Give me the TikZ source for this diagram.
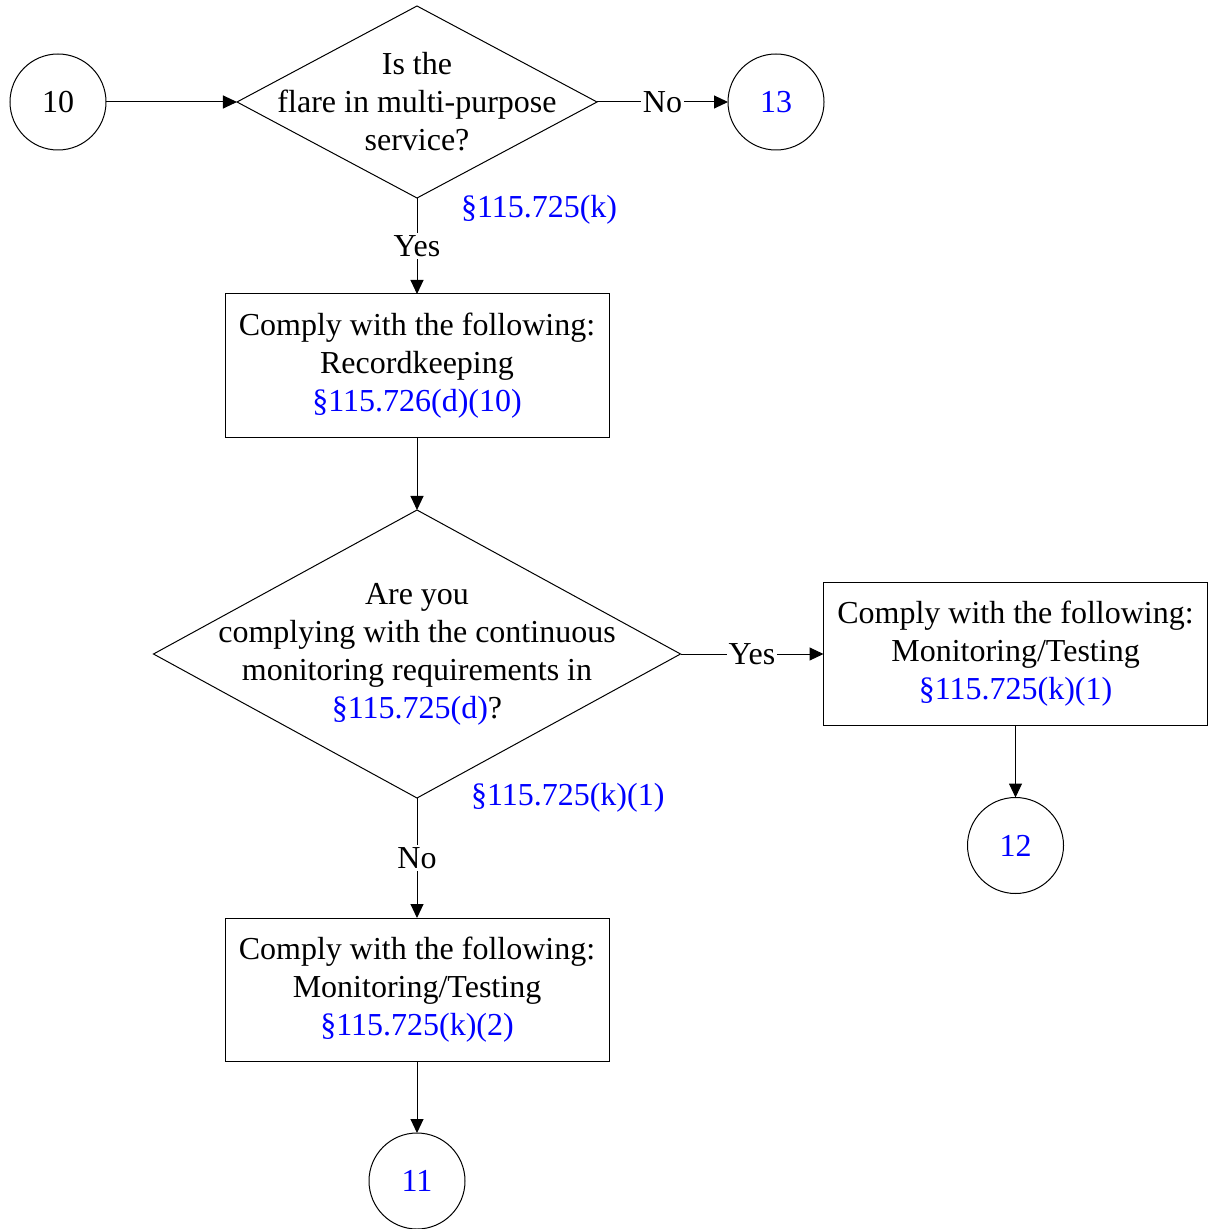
\documentclass[tikz,border=0pt]{standalone}
\usepackage{fontspec}
\setmainfont{Liberation Serif}
\usetikzlibrary{shapes.geometric, arrows.meta, positioning}
\tikzset{arrow/.style = {line width=0.5pt, -{Triangle[length=7pt,width=6.5pt]}}}

\begin{document}
\begin{tikzpicture}[x=0.5pt, y=-0.5pt,
  every node/.style = {font=\fontsize{16pt}{19pt}\selectfont, outer sep=0pt},
  main/.style = {draw, circle, line width=0.5pt, minimum size=48pt, inner sep=0pt},
  decision/.style = {draw, diamond, line width=0.5pt, align=center, inner sep=-20pt},
  block/.style = {draw, rectangle, line width=0.5pt, align=center, minimum width=192pt, minimum height=71.5pt, inner sep=0pt},
  lbl/.style = {fill=white, inner sep=1pt},
  ref/.style = {text=blue, inner sep=0pt}]
\useasboundingbox (0,0) rectangle (1207,1229);

\node[main] (c10) at (58,102) {10};
\node[decision, minimum width=180pt, minimum height=96pt, shape aspect=1.875] (q1) [right=65.5pt of c10] {Is the\\flare in multi-purpose\\service?};
\node[main, text=blue] (c13) [right=65.5pt of q1] {13};
\node[ref] (r1) [right=22pt of q1.south, yshift=-6pt] {\S115.725(k)};
\node[block] (b1) [below=48pt of q1] {Comply with the following:\\Recordkeeping\\\textcolor{blue}{\S115.726(d)(10)}};
\node[decision, minimum width=263.5pt, minimum height=144pt, shape aspect=1.83] (q2) [below=36.5pt of b1] {Are you\\complying with the continuous\\monitoring requirements in\\\textcolor{blue}{\S115.725(d)}?};
\node[ref] (r2) [right=27pt of q2.south] {\S115.725(k)(1)};
\node[block] (b2) [right=71.5pt of q2] {Comply with the following:\\Monitoring/Testing\\\textcolor{blue}{\S115.725(k)(1)}};
\node[main, text=blue] (c12) [below=36pt of b2] {12};
\node[block] (b3) [below=60pt of q2] {Comply with the following:\\Monitoring/Testing\\\textcolor{blue}{\S115.725(k)(2)}};
\node[main, text=blue] (c11) [below=36pt of b3] {11};

\draw[arrow] (c10) -- (q1);
\draw[arrow] (q1) -- node[lbl] {No} (c13);
\draw[arrow] (q1) -- node[lbl] {Yes} (b1);
\draw[arrow] (b1) -- (q2);
\draw[arrow] (q2) -- node[lbl] {Yes} (b2);
\draw[arrow] (b2) -- (c12);
\draw[arrow] (q2) -- node[lbl] {No} (b3);
\draw[arrow] (b3) -- (c11);
\end{tikzpicture}
\end{document}
